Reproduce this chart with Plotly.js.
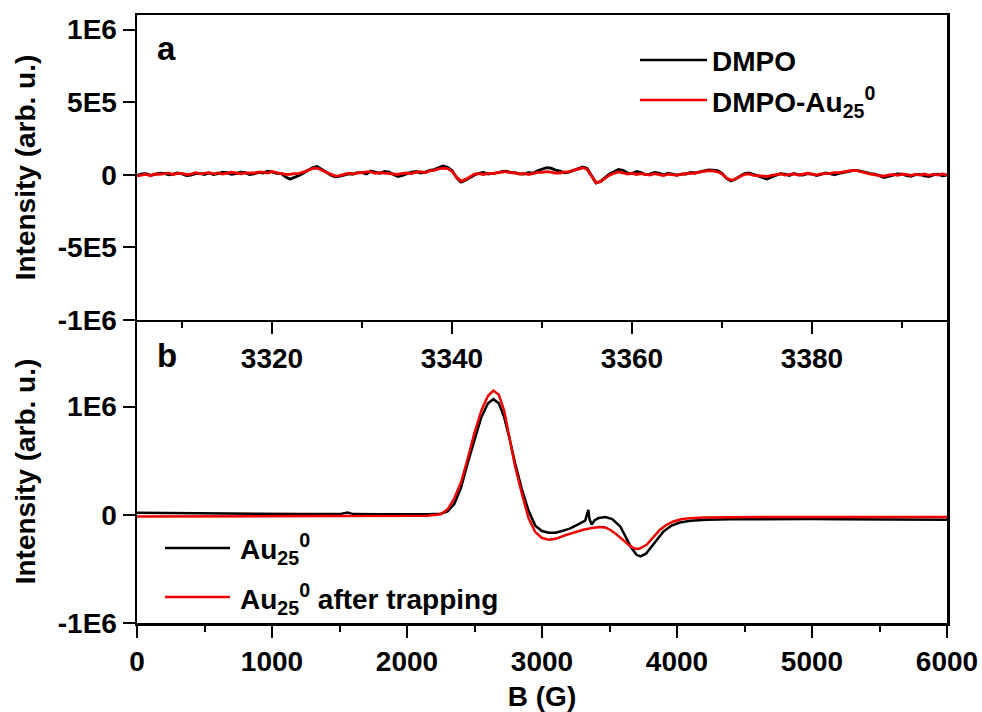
<!DOCTYPE html>
<html>
<head>
<meta charset="utf-8">
<script src="https://cdn.plot.ly/plotly-3.0.1.min.js"></script>
<style>html,body{margin:0;padding:0;background:#fff}#chart{width:982px;height:712px}</style>
</head>
<body>
<div id="chart"></div>
<script>
// ---- Panel a: DMPO spin-trap spectra, B from 3305 G in 0.5 G steps ----
const aStartB = 3305;
const aStepB = 0.5;
const dmpo = [
-5000,6000,8000,-4000,2000,11000,10000,-1000,4000,13000,
6000,-6000,-3000,8000,9000,1000,12000,2000,7000,17000,
14000,3000,8000,18000,15000,2000,6000,16000,12000,24000,
20000,10000,10000,-15000,-30000,-18000,-5000,12000,30000,48000,
57000,40000,20000,-2000,-15000,-12000,-5000,5000,5000,14000,
15000,6000,25000,16000,10000,22000,18000,2000,-12000,-4000,
8000,18000,22000,12000,18000,30000,35000,50000,60000,52000,
30000,-20000,-50000,-38000,-20000,-2000,10000,16000,4000,8000,
12000,22000,25000,16000,15000,6000,5000,16000,10000,28000,
40000,48000,45000,32000,25000,14000,18000,30000,40000,54000,
45000,-10000,-57000,-45000,-20000,5000,20000,37000,30000,12000,
8000,22000,15000,2000,5000,16000,12000,0,10000,4000,
-3000,4000,5000,16000,12000,20000,25000,34000,32000,28000,
10000,-25000,-42000,-30000,-10000,8000,12000,2000,-5000,-18000,
-30000,-15000,-5000,8000,4000,-6000,8000,0,-2000,8000,
5000,-5000,2000,12000,8000,0,10000,18000,22000,28000,
30000,24000,15000,8000,5000,-8000,-20000,-12000,-5000,6000,
5000,-6000,-10000,0,3000,-8000,-12000,-1000,4000,-7000,
-3000];
const dmpoAu = [
-8000,0,3000,-7000,5000,3000,6000,11000,2000,9000,
10000,1000,5000,14000,6000,12000,14000,6000,12000,4000,
10000,17000,12000,6000,13000,11000,12000,18000,18000,12000,
22000,14000,8000,2000,2000,8000,8000,18000,28000,42000,
46000,34000,18000,4000,-8000,-6000,2000,10000,4000,12000,
14000,20000,20000,10000,15000,12000,12000,4000,2000,10000,
12000,8000,18000,22000,14000,26000,30000,40000,46000,42000,
24000,-15000,-44000,-32000,-14000,4000,8000,2000,10000,8000,
14000,20000,22000,14000,12000,4000,9000,2000,8000,16000,
16000,22000,18000,12000,12000,20000,22000,32000,42000,48000,
38000,-8000,-54000,-48000,-25000,-3000,10000,20000,12000,4000,
10000,2000,8000,4000,-2000,7000,3000,-5000,4000,2000,
-4000,4000,6000,12000,12000,18000,22000,28000,26000,20000,
6000,-22000,-38000,-28000,-12000,2000,6000,-4000,-6000,-8000,
-12000,-4000,0,6000,-2000,4000,6000,-3000,3000,10000,
4000,-2000,6000,5000,9000,14000,14000,20000,24000,30000,
28000,18000,12000,4000,0,-4000,-10000,-2000,2000,-4000,
4000,2000,-6000,4000,-3000,5000,-4000,4000,-2000,6000,
-1000];

// ---- Panel b: Au25^0 wide-sweep spectra ----
const au25B = [0,200,400,600,800,1000,1200,1400,1500,1560,1600,1800,2000,2150,2250,2300,2350,2400,2450,2500,2550,2600,2640,2680,2720,2760,2800,2850,2900,2950,3000,3050,3100,3150,3200,3250,3300,3320,3335,3343,3352,3368,3390,3420,3470,3520,3580,3620,3660,3700,3730,3770,3800,3850,3900,3960,4020,4100,4220,4400,4600,4800,5000,5200,5400,5600,5800,6000];
const au25 = [18000,15000,12000,10000,9000,8000,7000,6000,6000,20000,6000,5000,4000,4000,10000,30000,100000,250000,480000,700000,900000,1030000,1068000,1030000,900000,700000,480000,240000,40000,-100000,-150000,-165000,-165000,-150000,-130000,-100000,-70000,-55000,10000,46000,-40000,-90000,-50000,-30000,-20000,-40000,-108000,-200000,-300000,-370000,-385000,-360000,-310000,-230000,-154000,-100000,-71000,-55000,-45000,-42000,-40000,-40000,-40000,-41000,-42000,-43000,-44000,-46000];
const trappedB = [0,500,1000,1500,2000,2150,2250,2300,2350,2400,2450,2500,2550,2600,2640,2680,2720,2760,2800,2850,2900,2950,3000,3050,3100,3183,3250,3306,3370,3430,3470,3504,3550,3602,3650,3690,3720,3775,3820,3874,3920,3973,4030,4096,4200,4400,5000,6000];
const trapped = [-15000,-15000,-16000,-16000,-15000,-10000,5000,50000,150000,300000,520000,760000,960000,1100000,1148000,1110000,960000,700000,450000,200000,-30000,-160000,-215000,-230000,-222000,-185000,-158000,-138000,-122000,-114000,-118000,-138000,-180000,-231000,-285000,-315000,-315000,-277000,-215000,-138000,-95000,-62000,-42000,-31000,-25000,-22000,-21000,-21000];

// ---- Tick labels ----
const aTickVals = [-1e6, -5e5, 0, 5e5, 1e6];
const aTickText = ['-1E6', '-5E5', '0', '5E5', '1E6'];
const bTickVals = [-1e6, 0, 1e6];
const bTickText = ['-1E6', '0', '1E6'];

const names = {
  dmpo: 'DMPO',
  dmpoAu: 'DMPO-Au<sub>25</sub><sup>0</sup>',
  au25: 'Au<sub>25</sub><sup>0</sup>',
  trapped: 'Au<sub>25</sub><sup>0</sup> after trapping'
};

const BLACK = '#000000';
const RED = '#f00000';
const FONT = 'Liberation Sans, Arial, Helvetica, sans-serif';

const traces = [
  {y: dmpo, x0: aStartB, dx: aStepB, type: 'scatter', mode: 'lines', name: names.dmpo,
   line: {color: BLACK, width: 2.8}, xaxis: 'x', yaxis: 'y', showlegend: false},
  {y: dmpoAu, x0: aStartB, dx: aStepB, type: 'scatter', mode: 'lines', name: names.dmpoAu,
   line: {color: RED, width: 2.8}, xaxis: 'x', yaxis: 'y', showlegend: false},
  {x: au25B, y: au25, type: 'scatter', mode: 'lines', name: names.au25,
   line: {color: BLACK, width: 2.5}, xaxis: 'x2', yaxis: 'y2', showlegend: false},
  {x: trappedB, y: trapped, type: 'scatter', mode: 'lines', name: names.trapped,
   line: {color: RED, width: 2.5}, xaxis: 'x2', yaxis: 'y2', showlegend: false}
];

const axisCommon = {
  showline: true, linecolor: '#000', linewidth: 2.5, mirror: true,
  ticks: 'outside', ticklen: 12, tickwidth: 2, tickcolor: '#000',
  showgrid: false, zeroline: false,
  tickfont: {family: FONT, size: 28, color: '#000', weight: 700}
};

const split = 0.4984;
const titleFont = {family: FONT, size: 28, color: '#000', weight: 700};

const layout = {
  width: 982, height: 712,
  margin: {l: 137, r: 35, t: 15, b: 89},
  paper_bgcolor: '#fff', plot_bgcolor: '#fff',
  font: {family: FONT, size: 28, color: '#000', weight: 700},
  showlegend: false,
  xaxis: Object.assign({}, axisCommon, {
    domain: [0, 1], anchor: 'y', range: [3305, 3395],
    tickmode: 'linear', tick0: 3300, dtick: 20,
    minor: {dtick: 10, ticks: 'outside', ticklen: 6, tickwidth: 2, tickcolor: '#000'}
  }),
  yaxis: Object.assign({}, axisCommon, {
    domain: [split, 1], anchor: 'x', range: [-1e6, 1.1e6],
    tickmode: 'array', tickvals: aTickVals, ticktext: aTickText,
    title: {text: 'Intensity (arb. u.)', font: titleFont, standoff: 14}
  }),
  xaxis2: Object.assign({}, axisCommon, {
    domain: [0, 1], anchor: 'y2', range: [0, 6000], mirror: false,
    tickmode: 'linear', tick0: 0, dtick: 1000,
    minor: {dtick: 500, ticks: 'outside', ticklen: 6, tickwidth: 2, tickcolor: '#000'},
    title: {text: 'B (G)', font: titleFont}
  }),
  yaxis2: Object.assign({}, axisCommon, {
    domain: [0, split], anchor: 'x2', range: [-1e6, 1.8e6],
    tickmode: 'array', tickvals: bTickVals, ticktext: bTickText,
    title: {text: 'Intensity (arb. u.)', font: titleFont, standoff: 14}
  }),
  shapes: [
    {type: 'line', xref: 'paper', yref: 'paper', x0: 0.621, x1: 0.7037, y0: 0.926, y1: 0.926, line: {color: BLACK, width: 2.5}},
    {type: 'line', xref: 'paper', yref: 'paper', x0: 0.621, x1: 0.7037, y0: 0.860, y1: 0.860, line: {color: RED, width: 2.5}},
    {type: 'line', xref: 'paper', yref: 'paper', x0: 0.0346, x1: 0.1148, y0: 0.1234, y1: 0.1234, line: {color: BLACK, width: 2.5}},
    {type: 'line', xref: 'paper', yref: 'paper', x0: 0.0346, x1: 0.1148, y0: 0.0428, y1: 0.0428, line: {color: RED, width: 2.5}}
  ],
  annotations: [
    {text: names.dmpo, xref: 'paper', yref: 'paper', x: 0.708, y: 0.9227, xanchor: 'left', yanchor: 'middle', showarrow: false, font: {size: 28}},
    {text: names.dmpoAu, xref: 'paper', yref: 'paper', x: 0.708, y: 0.857, xanchor: 'left', yanchor: 'middle', showarrow: false, font: {size: 28}},
    {text: names.au25, xref: 'paper', yref: 'paper', x: 0.1247, y: 0.121, xanchor: 'left', yanchor: 'middle', showarrow: false, font: {size: 28}},
    {text: names.trapped, xref: 'paper', yref: 'paper', x: 0.1247, y: 0.040, xanchor: 'left', yanchor: 'middle', showarrow: false, font: {size: 28}},
    {text: 'a', xref: 'paper', yref: 'paper', x: 0.0227, y: 0.945, xanchor: 'left', yanchor: 'middle', showarrow: false, font: {size: 33}},
    {text: 'b', xref: 'paper', yref: 'paper', x: 0.0227, y: 0.44, xanchor: 'left', yanchor: 'middle', showarrow: false, font: {size: 33}}
  ]
};

Plotly.newPlot('chart', traces, layout, {displayModeBar: false, staticPlot: true});
</script>
</body>
</html>
